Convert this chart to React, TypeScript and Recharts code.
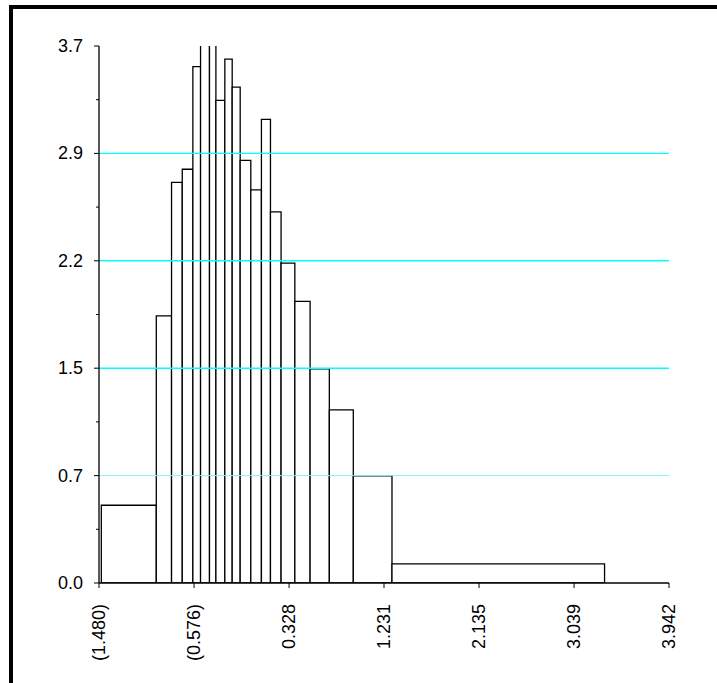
import React from 'react';
import { ComposedChart, XAxis, YAxis, ReferenceArea, ReferenceLine } from 'recharts';

// Histogram bins (variable width): edges and heights
const binEdges = [
  -1.458, -0.935, -0.79, -0.688, -0.587, -0.514, -0.429, -0.368, -0.283, -0.213,
  -0.137, -0.036, 0.065, 0.151, 0.252, 0.383, 0.528, 0.711, 0.939, 1.307, 3.329,
];
const binHeights = [
  0.53, 1.82, 2.73, 2.82, 3.52, 3.9, 3.78, 3.29, 3.57, 3.38,
  2.88, 2.68, 3.16, 2.53, 2.18, 1.92, 1.46, 1.18, 0.73, 0.13,
];

const xTickValues = [-1.48, -0.576, 0.328, 1.231, 2.135, 3.039, 3.942];
const xTickLabels = ['(1.480)', '(0.576)', '0.328', '1.231', '2.135', '3.039', '3.942'];
const yTickValues = [0, 0.732, 1.464, 2.196, 2.928, 3.66];
const yTickLabels = ['0.0', '0.7', '1.5', '2.2', '2.9', '3.7'];
const yMinorTicks = [0.366, 1.098, 1.83, 2.562, 3.294];
const gridValues = [0.732, 1.464, 2.196, 2.928];

const X_DOMAIN: [number, number] = [-1.48, 3.942];
const Y_DOMAIN: [number, number] = [0, 3.66];

const FONT = '"Liberation Sans", Arial, sans-serif';
const Y_TICK_SIZE = 5;
const Y_TICK_MARGIN = 11;

const data = binHeights.map((h, i) => ({
  x: (binEdges[i] + binEdges[i + 1]) / 2,
  lo: binEdges[i],
  hi: binEdges[i + 1],
  h,
}));

const allYTicks = [...yTickValues, ...yMinorTicks].sort((a, b) => a - b);

const XTick = (props: any) => {
  const { x, y, payload } = props;
  const idx = xTickValues.indexOf(payload.value);
  const label = idx >= 0 ? xTickLabels[idx] : '';
  return (
    <text
      x={x}
      y={y}
      transform={`rotate(-90 ${x} ${y})`}
      textAnchor="end"
      dominantBaseline="central"
      fontSize={18}
      fontFamily={FONT}
      fill="#000"
    >
      {label}
    </text>
  );
};

const YTick = (props: any) => {
  const { x, y, payload } = props;
  const idx = yTickValues.indexOf(payload.value);
  const axisX = x + Y_TICK_MARGIN + Y_TICK_SIZE;
  const len = idx >= 0 ? 5 : 3;
  return (
    <g>
      <line x1={axisX - len} x2={axisX} y1={y} y2={y} stroke="#000" strokeWidth={1} />
      {idx >= 0 && (
        <text
          x={x}
          y={y}
          textAnchor="end"
          dominantBaseline="central"
          fontSize={18}
          fontFamily={FONT}
          fill="#000"
        >
          {yTickLabels[idx]}
        </text>
      )}
    </g>
  );
};

export default function App() {
  return (
    <div style={{ position: 'absolute', left: 0, top: 0, width: 717, height: 683, overflow: 'hidden', background: '#fff' }}>
      <div
        style={{
          position: 'absolute',
          left: 9,
          top: 5,
          width: 760,
          height: 760,
          border: '4px solid #000',
        }}
      />
      <div style={{ position: 'absolute', left: 0, top: 0 }}>
        <ComposedChart
          width={717}
          height={683}
          data={data}
          margin={{ top: 46, right: 48, bottom: 40, left: 0 }}
        >
          <YAxis
            yAxisId="main"
            orientation="left"
            width={99}
            type="number"
            domain={Y_DOMAIN}
            allowDataOverflow
            ticks={allYTicks}
            interval={0}
            tickSize={Y_TICK_SIZE}
            tickMargin={Y_TICK_MARGIN}
            axisLine={{ stroke: '#000', strokeWidth: 1.3 }}
            tickLine={{ stroke: 'none' }}
            tick={<YTick />}
          />
          <YAxis
            yAxisId="right"
            orientation="right"
            width={0}
            type="number"
            domain={Y_DOMAIN}
            allowDataOverflow
            tick={false}
            tickLine={false}
            axisLine={{ stroke: '#333', strokeWidth: 1.5 }}
          />
          <XAxis
            xAxisId="main"
            dataKey="x"
            type="number"
            domain={X_DOMAIN}
            allowDataOverflow
            ticks={xTickValues}
            interval={0}
            height={60}
            tickSize={5}
            tickMargin={16}
            axisLine={{ stroke: '#000', strokeWidth: 1.3 }}
            tickLine={{ stroke: '#000' }}
            tick={<XTick />}
          />
          <XAxis
            xAxisId="top"
            orientation="top"
            dataKey="x"
            type="number"
            domain={X_DOMAIN}
            allowDataOverflow
            height={0}
            tick={false}
            tickLine={false}
            axisLine={{ stroke: '#000', strokeWidth: 1.3 }}
          />
          {data.map((d, i) => (
            <ReferenceArea
              key={`bin-${i}`}
              xAxisId="main"
              yAxisId="main"
              x1={d.lo}
              x2={d.hi}
              y1={0}
              y2={d.h}
              ifOverflow="hidden"
              fill="#fff"
              fillOpacity={1}
              stroke="#000"
              strokeWidth={1.3}
            />
          ))}
          {gridValues.map((v, i) => (
            <ReferenceLine
              key={`grid-${i}`}
              xAxisId="main"
              yAxisId="main"
              y={v}
              stroke={i === 0 ? '#80f4f4' : '#00ffff'}
              strokeWidth={i === 0 ? 1 : 1.4}
            />
          ))}
        </ComposedChart>
      </div>
    </div>
  );
}
